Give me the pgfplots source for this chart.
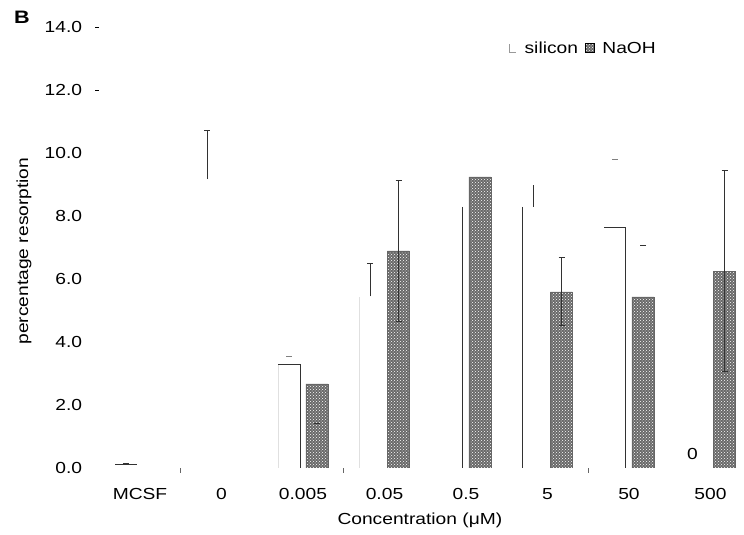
\documentclass[border=0pt]{standalone}
\usepackage{fontspec}
\setmainfont{Liberation Sans}[FakeStretch=1.2]
\usepackage{pgfplots}
\pgfplotsset{compat=1.18}
\usetikzlibrary{patterns}

\newcommand\chartfont{\fontsize{16}{19}\selectfont}
\definecolor{hatchgray}{RGB}{105,105,105}
\definecolor{edgegray}{RGB}{50,50,50}

% bar geometry: categories 81.5pt apart, bars 22pt wide, shifted by 14pt
% silicon centre = cat - 0.1718, NaOH centre = cat + 0.1718 (axis units)
% silicon edges: left = cat - 0.3067, right = cat - 0.0368

\begin{document}
\begin{tikzpicture}
\useasboundingbox (0pt,0pt) rectangle (744pt,535pt);
\node[font=\fontsize{18}{21}\selectfont\bfseries] at (22pt,518pt) {B};
\begin{axis}[
  at={(99.25pt,67pt)}, anchor=south west,
  scale only axis, width=643.85pt, height=441pt,
  xmin=-0.5, xmax=7.4, ymin=0, ymax=14,
  axis lines*=left, axis line style={draw=none},
  /pgf/number format/assume math mode=true,
  xtick={0,...,7},
  xticklabels={MCSF,0,0.005,0.05,0.5,5,50,500},
  ytick={0,2,...,14},
  major tick length=0pt,
  tick label style={font=\chartfont},
  xticklabel style={anchor=base, yshift=-31pt},
  yticklabel style={anchor=east, inner sep=0pt, xshift=-17pt,
    /pgf/number format/.cd, fixed, fixed zerofill, precision=1},
  extra y ticks={12,14}, extra y tick labels={},
  extra y tick style={tick align=outside, major tick length=4pt,
    tick style={black, line width=0.8pt}},
  extra x ticks={0.5,2.5,5.5}, extra x tick labels={},
  extra x tick style={tick align=outside, major tick length=5pt,
    tick style={black!60, line width=0.8pt}},
  xlabel={Concentration (μM)},
  ylabel={percentage resorption},
  label style={font=\chartfont},
  xlabel style={at={(rel axis cs:0.498,-0.118)}, anchor=center},
  ylabel style={at={(rel axis cs:-0.117,0.492)}, anchor=center, rotate=0},
  legend style={at={(rel axis cs:0.636,0.952)}, anchor=west, draw=none,
    fill=none, font=\chartfont, inner sep=0pt,
    nodes={inner ysep=2pt, inner xsep=3pt},
    /tikz/every odd column/.append style={column sep=5pt},
    /tikz/every even column/.append style={column sep=4pt}},
  legend columns=-1,
  error bars/error bar style={edgegray, line width=0.9pt},
  error bars/error mark options={edgegray, line width=0.9pt, mark size=3pt, rotate=90},
]

% silicon (white bars)
\addplot[ybar, bar width=22pt, bar shift=-14pt, fill=white, draw=none,
  forget plot]
  coordinates {(0,0.10) (1,9.17) (2,3.27) (3,5.45) (4,8.29) (5,8.29) (6,7.62) (7,0)};

% silicon value at 500 uM
\addplot[ybar, bar width=22pt, bar shift=-14pt, fill=none, draw=none,
  forget plot, nodes near coords,
  every node near coord/.append style={font=\chartfont, anchor=base,
    yshift=9pt, xshift=-18pt, inner sep=0pt}]
  coordinates {(7,0)};

% NaOH (hatched bars)
\addplot[ybar, bar width=22pt, bar shift=14pt, draw=black!60, line width=0.4pt,
  fill=hatchgray, postaction={pattern=crosshatch dots, pattern color=white},
  forget plot]
  coordinates {(2,2.67) (3,6.89) (4,9.24) (5,5.59) (6,5.43) (7,6.25)};

% silicon error bars (upper)
\addplot[draw=none, mark=none, forget plot,
  error bars/.cd, y dir=plus, y explicit]
  coordinates {
    (-0.1718,0.10) +- (0,0.05)
    (0.8282,9.17) +- (0,1.53)
    (2.8282,5.45) +- (0,1.03)
  };
\addplot[draw=none, mark=none, forget plot,
  error bars/.cd, y dir=plus, y explicit, error mark=none]
  coordinates {(4.8282,8.29) +- (0,0.69)};

% NaOH error bars
\addplot[draw=none, mark=none, forget plot,
  error bars/.cd, y dir=both, y explicit]
  coordinates {
    (3.1718,6.89) +- (0,2.24)
    (5.1718,5.59) +- (0,1.08)
    (7.1718,6.25) +- (0,3.20)
  };

% lone error caps
\addplot[only marks, mark=-, mark size=3pt, mark options={gray, line width=0.9pt},
  forget plot]
  coordinates {(1.8282,3.55) (5.8282,9.78)};
\addplot[only marks, mark=-, mark size=3pt, mark options={edgegray, line width=0.9pt},
  forget plot]
  coordinates {(2.1718,1.43) (6.1718,7.05)};

% silicon bar outlines
\addplot[edgegray, line width=1pt, unbounded coords=jump, forget plot]
  coordinates {
    (-0.3067,0.10) (-0.0368,0.10) (nan,nan)
    (1.6933,3.27) (1.9632,3.27) (1.9632,0) (nan,nan)
    (3.9632,8.29) (3.9632,0) (nan,nan)
    (4.6933,8.29) (4.6933,0) (nan,nan)
    (5.6933,7.62) (5.9632,7.62) (5.9632,0)
  };
\addplot[black!12, line width=0.8pt, unbounded coords=jump, forget plot]
  coordinates {
    (1.6933,0) (1.6933,3.27) (nan,nan)
    (2.6933,0) (2.6933,5.43)
  };

\addlegendimage{legend image code/.code={
  \draw[gray!80, line width=0.7pt] (0pt,4pt) -- (0pt,-4pt) -- (7pt,-4pt);}}
\addlegendentry{silicon}
\addlegendimage{legend image code/.code={
  \path[fill=hatchgray, postaction={pattern=crosshatch dots, pattern color=white}]
    (0pt,-4.5pt) rectangle (9pt,4.5pt);}}
\addlegendentry{NaOH}
\end{axis}
\end{tikzpicture}
\end{document}
